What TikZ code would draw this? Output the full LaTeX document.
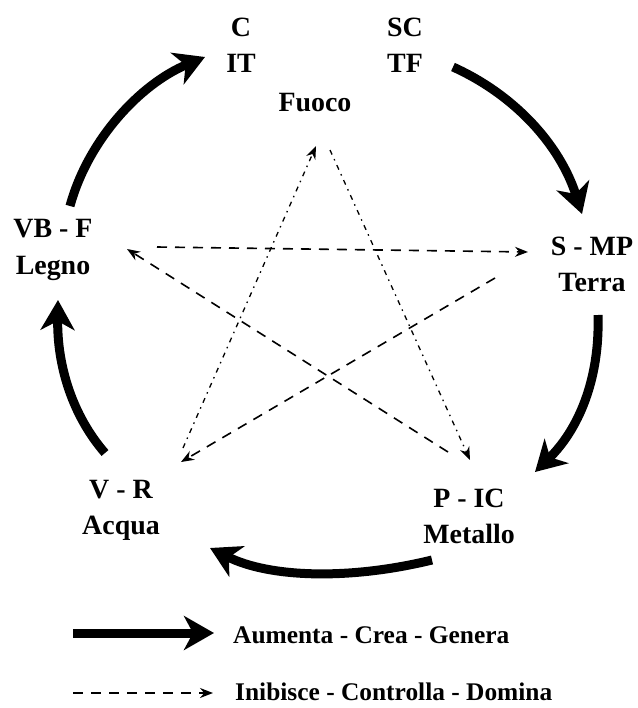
\documentclass[tikz,border=0pt]{standalone}
\usepackage{fontspec}
\setmainfont{Liberation Serif}
\usetikzlibrary{arrows.meta}

\begin{document}
\begin{tikzpicture}[x=1bp,y=-1bp,
  every node/.style={font=\fontsize{28}{36}\selectfont\bfseries,align=center,inner sep=0pt},
  gen/.style={line width=9bp,-{Stealth[length=30bp,width=34bp,inset=9bp]}},
  ctrl/.style={line width=1.6bp,dash pattern=on 10bp off 8bp,-{Stealth[length=13bp,width=10bp]}},
  ctrlf/.style={line width=1.3bp,dash pattern=on 5bp off 5bp on 1.5bp off 5bp,-{Stealth[length=13bp,width=10bp]}},
  legend/.style={font=\fontsize{25.5}{30}\selectfont\bfseries,anchor=west}]
\useasboundingbox (0,0) rectangle (638,708);
\node (fireA) at (241,45) {C\\IT};
\node (fireB) at (405,45) {SC\\TF};
\node (fire) at (315,103) {Fuoco};
\node (wood) at (53,250) {VB - F\\[2bp]Legno};
\node (earth) at (592,264) {S - MP\\Terra};
\node (water) at (121,510) {V - R\\Acqua};
\node (metal) at (469,516) {P - IC\\Metallo};
\coordinate (woodOut) at (70,206);
\coordinate (fireIn) at (205,57);
\coordinate (fireOut) at (453,67);
\coordinate (earthIn) at (582,214);
\coordinate (earthOut) at (598,315);
\coordinate (metalIn) at (535,472);
\coordinate (metalOut) at (432,560);
\coordinate (waterIn) at (210,548);
\coordinate (waterOut) at (105,453);
\coordinate (woodIn) at (58,300);
\draw[gen] (woodOut) .. controls (88,140) and (140,84) .. (fireIn);
\draw[gen] (fireOut) .. controls (515,95) and (560,145) .. (earthIn);
\draw[gen] (earthOut) .. controls (600,380) and (578,430) .. (metalIn);
\draw[gen] (metalOut) .. controls (350,580) and (270,578) .. (waterIn);
\draw[gen] (waterOut) .. controls (72,415) and (57,365) .. (woodIn);
\coordinate (woodC) at (157,247);
\coordinate (earthC) at (528,252);
\coordinate (earthD) at (495,278);
\coordinate (waterC) at (181,462);
\coordinate (waterD) at (183,448);
\coordinate (fireC) at (316,146);
\coordinate (fireD) at (330,150);
\coordinate (metalC) at (470,460);
\coordinate (metalD) at (448,452);
\coordinate (woodD) at (127,249);
\draw[ctrl] (woodC) -- (earthC);
\draw[ctrl] (earthD) -- (waterC);
\draw[ctrlf] (waterD) -- (fireC);
\draw[ctrlf] (fireD) -- (metalC);
\draw[ctrl] (metalD) -- (woodD);
\node[legend] (lgGen) at (233,635) {Aumenta - Crea - Genera};
\node[legend] (lgCtrl) at (235,692) {Inibisce - Controlla - Domina};
\coordinate (lgGenA) at (73,633);
\coordinate (lgGenB) at (214,633);
\coordinate (lgCtrlA) at (73,693);
\coordinate (lgCtrlB) at (213,693);
\draw[gen] (lgGenA) -- (lgGenB);
\draw[ctrl] (lgCtrlA) -- (lgCtrlB);
\end{tikzpicture}
\end{document}
